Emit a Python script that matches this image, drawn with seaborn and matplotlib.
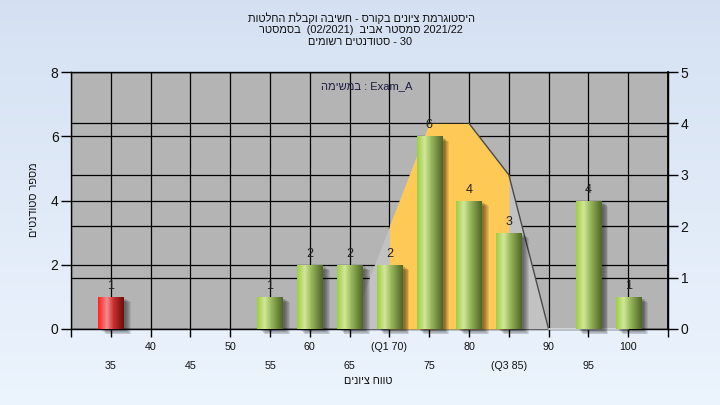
import numpy as np
import matplotlib
matplotlib.use("Agg")
import matplotlib.pyplot as plt
import seaborn as sns
import pandas as pd
from matplotlib.patches import Rectangle
from matplotlib import transforms

# ---------------- data ----------------
grades = ["35", "40", "45", "50", "55", "60", "65", "70", "75", "80", "85", "90", "95", "100"]
tick_labels = ["35", "40", "45", "50", "55", "60", "65", "(Q1 70)", "75", "80", "(Q3 85)", "90", "95", "100"]
counts = [1, 0, 0, 0, 1, 2, 2, 2, 6, 4, 3, 0, 4, 1]
curve = [0, 0, 0, 0, 0, 0, 0, 2, 4, 4, 3, 0, 0, 0]
q1_idx, q3_idx = 7, 10
fail_grades = ["35"]


def rtl(s):
    return s[::-1]


title1 = rtl("היסטוגרמת ציונים בקורס - חשיבה וקבלת החלטות")
title2 = rtl("בסמסטר") + "  (02/2021)  " + rtl("סמסטר אביב") + " 2021/22"
title3 = rtl("סטודנטים רשומים") + " - 30"
task_label = rtl("במשימה") + " : Exam_A"
ylabel = rtl("מספר סטודנטים")
xlabel = rtl("טווח ציונים")

# ---------------- style ----------------
sns.set_theme(style="white")
plt.rcParams['font.family'] = ['Liberation Sans', 'DejaVu Sans']

fig = plt.figure(figsize=(7.2, 4.05), dpi=100)

# background gradient
bg = fig.add_axes([0, 0, 1, 1], zorder=-10)
g = np.linspace(0, 1, 256)[:, None, None]
top = np.array([0.835, 0.880, 0.950])
bot = np.array([0.925, 0.957, 0.992])
bg.imshow(top + (bot - top) * g, aspect='auto', extent=[0, 1, 0, 1], origin='upper')
bg.axis('off')

W, H = 720, 405
L, R, T, B = 71, 668, 72, 329
ax = fig.add_axes([L / W, 1 - B / H, (R - L) / W, (B - T) / H])
ax.set_facecolor('#b4b4b4')
n = len(grades)
xpos = np.arange(n)

# right axis with the curve
ax2 = ax.twinx()
# bars axis (left scale)
ax3 = ax.twinx()

df = pd.DataFrame({"grade": grades, "count": counts})
pal = {gname: ('#e82020' if gname in fail_grades else '#a4cc48') for gname in grades}
sns.barplot(data=df, x="grade", y="count", hue="grade", order=grades, hue_order=grades,
            palette=pal, width=0.63, legend=False, ax=ax3, saturation=1, errorbar=None,
            linewidth=0)

# limits
ax.set_xlim(-1, n)
ax.set_ylim(0, 8)
ax2.set_ylim(0, 5)
ax3.set_ylim(0, 8)
ax3.set_xlim(-1, n)

# left axis ticks / grid
ax.set_yticks([0, 2, 4, 6, 8])
ax.tick_params(axis='y', which='both', left=True, length=7, width=1, color='black',
               labelsize=10, pad=2, labelcolor='#111111')
major = [i for i in range(n) if i % 2 == 1]
minor = [-1] + [i for i in range(n) if i % 2 == 0] + [n]
ax.set_xticks(major)
ax.set_xticklabels([tick_labels[i] for i in major])
ax.set_xticks(minor, minor=True)
ax.set_xticklabels([""] + [tick_labels[i] for i in range(n) if i % 2 == 0] + [""], minor=True)
ax.tick_params(axis='x', which='major', bottom=True, length=6, width=1, color='black',
               labelsize=7.7, pad=3, labelcolor='#111111')
ax.tick_params(axis='x', which='minor', bottom=True, length=6, width=1, color='black',
               labelsize=7.7, pad=17, labelcolor='#111111')
ax.grid(True, which='both', axis='x', color='black', linewidth=0.9)
ax.grid(True, which='major', axis='y', color='black', linewidth=0.9)
ax.set_axisbelow(True)
for s in ax.spines.values():
    s.set_color('black')
    s.set_linewidth(1)
ax.set_xlabel("")
ax.set_ylabel("")

# right axis
ax2.set_yticks([0, 1, 2, 3, 4, 5])
ax2.tick_params(axis='y', right=True, length=7, width=1, color='black', labelsize=10,
                pad=2, labelcolor='#111111')
ax2.grid(True, axis='y', color='black', linewidth=0.9)
ax2.set_axisbelow(True)
for s in ax2.spines.values():
    s.set_visible(False)
ax2.spines['right'].set_visible(True)
ax2.spines['right'].set_color('black')

# curve area
ax2.fill_between(xpos, curve, 0, color='#c2c2c2', linewidth=0, zorder=1)
ax2.fill_between(xpos[q1_idx:q3_idx + 1], curve[q1_idx:q3_idx + 1], 0,
                 color='#ffc956', linewidth=0, zorder=1.5)
ax2.plot(xpos[9:12], curve[9:12], color='#4a4a4a', linewidth=1.0, zorder=2)
ax2.plot(xpos[11:14], curve[11:14], color='#e4e8ee', linewidth=1.2, zorder=2, clip_on=False)

# bars: gradient + shadow
ax3.yaxis.set_visible(False)
for s in ax3.spines.values():
    s.set_visible(False)
ax3.set_xlabel("")
ax3.set_ylabel("")


def grad_img(stops):
    t = np.linspace(0, 1, 120)
    pos = [p for p, _ in stops]
    cols = np.array([c for _, c in stops])
    rgb = np.stack([np.interp(t, pos, cols[:, k]) for k in range(3)], axis=-1)
    return rgb[None, :, :]


green_stops = [(0.0, (0.62, 0.80, 0.26)), (0.30, (0.82, 0.91, 0.60)),
               (0.55, (0.60, 0.72, 0.36)), (1.0, (0.30, 0.40, 0.15))]
red_stops = [(0.0, (1.0, 0.12, 0.12)), (0.35, (0.95, 0.55, 0.55)),
             (0.6, (0.80, 0.18, 0.18)), (1.0, (0.42, 0.05, 0.05))]

bars = list(ax3.patches)
for p in bars:
    h = p.get_height()
    if h <= 0:
        continue
    x0, y0, w = p.get_x(), p.get_y(), p.get_width()
    idx = int(round(x0 + w / 2))
    # shadow
    for k in range(1, 7):
        off = transforms.ScaledTranslation((2 + k * 0.9) / 100, -(1 + k * 0.7) / 100, fig.dpi_scale_trans)
        sh = Rectangle((x0, y0), w, h, transform=ax3.transData + off, facecolor='black',
                       alpha=0.09, linewidth=0, zorder=2, clip_on=False)
        ax3.add_patch(sh)
    p.set_zorder(3)
    stops = red_stops if grades[idx] in fail_grades else green_stops
    im = ax3.imshow(grad_img(stops), extent=[x0, x0 + w, y0, y0 + h], aspect='auto',
                    interpolation='bilinear', zorder=4)
    im.set_clip_path(p)
    ax3.annotate(str(counts[idx]), (x0 + w / 2, h), xytext=(0, 3.5), textcoords='offset points',
                 ha='center', va='bottom', fontsize=9, color='#202020', zorder=6)

ax3.set_xlim(-1, n)
ax3.set_ylim(0, 8)
ax.set_xticks(major)
ax.set_xticklabels([tick_labels[i] for i in major])

# texts
fig.text(361 / W, 1 - 18 / H, title1, ha='center', va='center', fontsize=7.9, color='#111111')
fig.text(361 / W, 1 - 30 / H, title2, ha='center', va='center', fontsize=7.9, color='#111111')
fig.text(360 / W, 1 - 42 / H, title3, ha='center', va='center', fontsize=7.9, color='#111111')
fig.text(367 / W, 1 - 86 / H, task_label, ha='center', va='center', fontsize=8, color='#1c1c44')
fig.text(34 / W, 1 - 200 / H, ylabel, ha='center', va='center', rotation=90, fontsize=7.8,
         color='#111111')
fig.text(368 / W, 1 - 381 / H, xlabel, ha='center', va='center', fontsize=7.8, color='#111111')

fig.savefig("out.png", dpi=100)
